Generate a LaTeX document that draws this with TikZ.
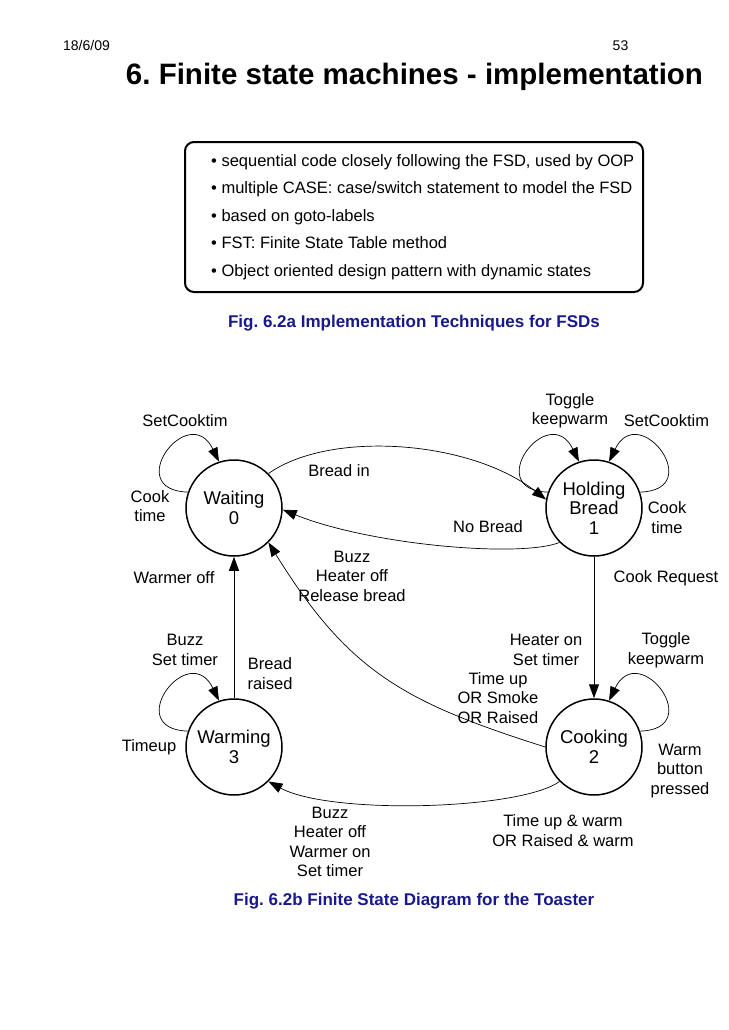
\documentclass[tikz,border=0pt]{standalone}
\usepackage{fontspec}
\setmainfont{Liberation Sans}
\usetikzlibrary{arrows.meta}
\definecolor{capblue}{RGB}{25,25,140}
\frenchspacing
\begin{document}
\begin{tikzpicture}[x=1pt,y=-1pt,
  lbl/.style={font=\fontsize{16.5}{19.5}\selectfont, align=center, inner sep=0pt},
  boxtxt/.style={font=\fontsize{16.5}{19.5}\selectfont, anchor=base west, inner sep=0pt},
  hdr/.style={font=\fontsize{14}{16}\selectfont, inner sep=0pt},
  state/.style={circle, draw, line width=1.5pt, minimum size=96pt, inner sep=0pt, font=\fontsize{18.5}{19.5}\selectfont, align=center},
  edge/.style={line width=0.7pt, -{Triangle[length=14pt,width=10pt]}},
  vedge/.style={line width=1pt, -{Triangle[length=14pt,width=10pt]}},
  capt/.style={font=\fontsize{17}{20}\selectfont\bfseries, text=capblue, inner sep=0pt},
]
\useasboundingbox (0,0) rectangle (728,1030);

% header
\node[hdr] (date) at (86.5,45.5) {18/6/09};
\node[hdr] (page) at (620.5,45.5) {53};
\node[font=\fontsize{29.5}{32}\selectfont\bfseries, anchor=base, inner sep=0pt] (title) at (414.5,85) {6. Finite state machines - implementation};

% box
\node[draw, rounded corners=9pt, line width=2pt, minimum width=458pt, minimum height=150pt, inner sep=0pt] (box) at (414,217) {};
\node[boxtxt] (b1) at (211,166) {• sequential code closely following the FSD, used by OOP};
\node[boxtxt] (b2) at (211,193.5) {• multiple CASE: case/switch statement to model the FSD};
\node[boxtxt] (b3) at (211,221) {• based on goto-labels};
\node[boxtxt] (b4) at (211,248.5) {• FST: Finite State Table method};
\node[boxtxt] (b5) at (211,276) {• Object oriented design pattern with dynamic states};
\node[capt] (cap1) at (414,323.5) {Fig. 6.2a Implementation Techniques for FSDs};

% states
\node[state] (W0) at (234,508) {Waiting\\0};
\node[state] (H1) at (594,508) {Holding\\Bread\\1};
\node[state] (C2) at (594,747) {Cooking\\2};
\node[state] (W3) at (234,747) {Warming\\3};

% transitions
\draw[edge] (W0.45) .. controls (330,430) and (470,440) .. (H1.170);
\draw[edge] (H1.225) .. controls (520,558) and (370,545) .. (W0.-2);
\draw[vedge] (H1.south) -- (C2.north);
\draw[vedge] (W3.north) -- (W0.south);
\draw[edge] (C2.180) .. controls (403,702) and (348,671) .. (W0.-45);
\draw[edge] (C2.225) .. controls (520,810) and (330,815) .. (W3.-45);

% self loops
\draw[edge] (W0.161) .. controls +(-67,-2) and +(-30,-62) .. (W0.108);
\draw[edge] (W3.161) .. controls +(-67,-2) and +(-30,-62) .. (W3.108);
\draw[edge] (H1.161) .. controls +(-67,-2) and +(-30,-62) .. (H1.108);
\draw[edge] (H1.19) .. controls +(67,-2) and +(30,-62) .. (H1.72);
\draw[edge] (C2.19) .. controls +(67,-2) and +(30,-62) .. (C2.72);

% labels
\node[lbl] (l1) at (185,421) {SetCooktim};
\node[lbl] (l2) at (150,506) {Cook\\time};
\node[lbl] (l3) at (339,471) {Bread in};
\node[lbl] (l4) at (488,527) {No Bread};
\node[lbl] (l5) at (570,410.5) {Toggle\\keepwarm};
\node[lbl] (l6) at (666.5,421) {SetCooktim};
\node[lbl] (l7) at (667,517.5) {Cook\\time};
\node[lbl] (l8) at (174,578) {Warmer off};
\node[lbl] (l9) at (352,576) {Buzz\\Heater off\\Release bread};
\node[lbl] (l10) at (666,578) {Cook Request};
\node[lbl] (l11) at (185,650) {Buzz\\Set timer};
\node[lbl] (l12) at (270,673.5) {Bread\\raised};
\node[lbl] (l13) at (546,650) {Heater on\\Set timer};
\node[lbl] (l14) at (666,650) {Toggle\\keepwarm};
\node[lbl] (l15) at (498,698) {Time up\\OR Smoke\\OR Raised};
\node[lbl] (l16) at (149,747) {Timeup};
\node[lbl] (l17) at (680,771) {Warm\\button\\pressed};
\node[lbl] (l18) at (330,842) {Buzz\\Heater off\\Warmer on\\Set timer};
\node[lbl] (l19) at (563,830.5) {Time up \& warm\\OR Raised \& warm};

\node[capt] (cap2) at (414,901.5) {Fig. 6.2b Finite State Diagram for the Toaster};
\end{tikzpicture}
\end{document}
